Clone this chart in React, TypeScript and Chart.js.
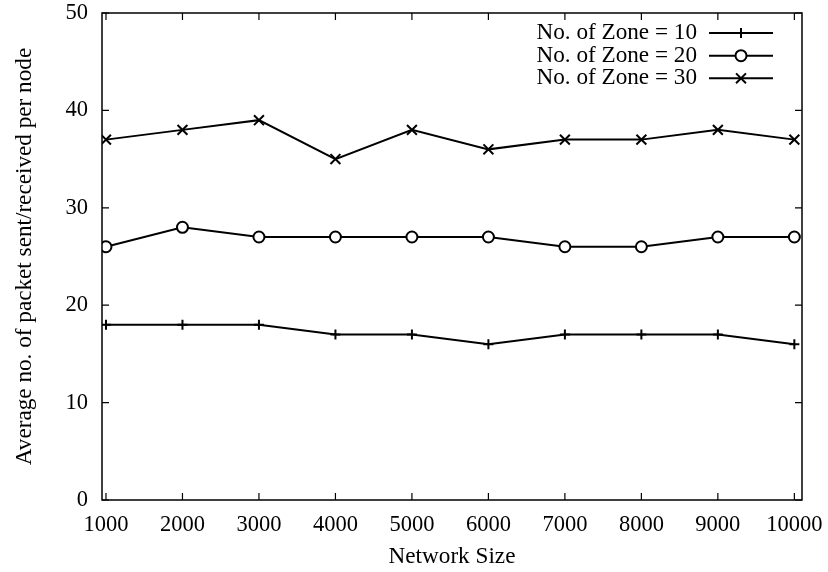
import React, { useEffect, useRef } from 'react';
import { Chart, registerables } from 'chart.js';

Chart.register(...registerables);

const networkSizes = [1000, 2000, 3000, 4000, 5000, 6000, 7000, 8000, 9000, 10000];
const zone10 = [18, 18, 18, 17, 17, 16, 17, 17, 17, 16];
const zone20 = [26, 28, 27, 27, 27, 27, 26, 26, 27, 27];
const zone30 = [37, 38, 39, 35, 38, 36, 37, 37, 38, 37];
const seriesLabels = ['No. of Zone = 10', 'No. of Zone = 20', 'No. of Zone = 30'];
const xTickValues = [1000, 2000, 3000, 4000, 5000, 6000, 7000, 8000, 9000, 10000];
const yTickValues = [0, 10, 20, 30, 40, 50];
const xTitle = 'Network Size';
const yTitle = 'Average no. of packet sent/received per node';

const FONT = '"Liberation Serif", "DejaVu Serif", serif';
const TICK_LEN = 7;

function drawMarker(ctx: CanvasRenderingContext2D, style: string, x: number, y: number, r: number) {
  ctx.beginPath();
  if (style === 'cross') {
    ctx.moveTo(x - r, y);
    ctx.lineTo(x + r, y);
    ctx.moveTo(x, y - r);
    ctx.lineTo(x, y + r);
    ctx.stroke();
  } else if (style === 'crossRot') {
    const d = r * Math.SQRT1_2;
    ctx.moveTo(x - d, y - d);
    ctx.lineTo(x + d, y + d);
    ctx.moveTo(x - d, y + d);
    ctx.lineTo(x + d, y - d);
    ctx.stroke();
  } else {
    ctx.arc(x, y, r, 0, Math.PI * 2);
    ctx.fillStyle = '#fff';
    ctx.fill();
    ctx.stroke();
  }
}

const framePlugin = {
  id: 'gnuframe',
  afterDraw(chart: any) {
    const { ctx, chartArea, scales } = chart;
    const { left, right, top, bottom } = chartArea;
    ctx.save();
    ctx.strokeStyle = '#000';
    ctx.lineWidth = 1.5;
    ctx.strokeRect(left, top, right - left, bottom - top);
    ctx.lineWidth = 1.2;
    ctx.beginPath();
    xTickValues.forEach((v) => {
      const px = scales.x.getPixelForValue(v);
      ctx.moveTo(px, bottom);
      ctx.lineTo(px, bottom - TICK_LEN);
      ctx.moveTo(px, top);
      ctx.lineTo(px, top + TICK_LEN);
    });
    yTickValues.forEach((v) => {
      const py = scales.y.getPixelForValue(v);
      ctx.moveTo(left, py);
      ctx.lineTo(left + TICK_LEN, py);
      ctx.moveTo(right, py);
      ctx.lineTo(right - TICK_LEN, py);
    });
    ctx.stroke();
    ctx.restore();
  },
};

const legendPlugin = {
  id: 'gnulegend',
  afterDraw(chart: any) {
    const { ctx, chartArea } = chart;
    const textRight = chartArea.right - 105;
    const lineStart = chartArea.right - 93;
    const lineEnd = chartArea.right - 29;
    const rowY = [chartArea.top + 20, chartArea.top + 42.7, chartArea.top + 65.3];
    ctx.save();
    chart.data.datasets.forEach((ds: any, i: number) => {
      const y = rowY[i];
      ctx.font = `23.2px ${FONT}`;
      ctx.fillStyle = '#000';
      ctx.textAlign = 'right';
      ctx.textBaseline = 'middle';
      ctx.fillText(ds.label, textRight, y);
      ctx.strokeStyle = '#000';
      ctx.lineWidth = 2;
      ctx.beginPath();
      ctx.moveTo(lineStart, y);
      ctx.lineTo(lineEnd, y);
      ctx.stroke();
      drawMarker(ctx, ds.pointStyle, (lineStart + lineEnd) / 2, y, ds.pointRadius);
    });
    ctx.restore();
  },
};

function makeSeries(label: string, values: number[], pointStyle: string, radius: number) {
  return {
    label,
    data: networkSizes.map((x, i) => ({ x, y: values[i] })),
    borderColor: '#000',
    borderWidth: 2,
    pointStyle,
    pointRadius: radius,
    pointBorderWidth: 2,
    pointBorderColor: '#000',
    pointBackgroundColor: '#fff',
    tension: 0,
    fill: false,
  };
}

export default function App() {
  const canvasRef = useRef<HTMLCanvasElement | null>(null);

  useEffect(() => {
    document.body.style.margin = '0';
    const canvas = canvasRef.current;
    if (!canvas) return;
    const chart = new Chart(canvas, {
      type: 'line',
      data: {
        datasets: [
          makeSeries(seriesLabels[0], zone10, 'cross', 5),
          makeSeries(seriesLabels[1], zone20, 'circle', 5.5),
          makeSeries(seriesLabels[2], zone30, 'crossRot', 7),
        ],
      },
      options: {
        responsive: false,
        animation: false,
        devicePixelRatio: 1,
        layout: { padding: { top: 13, right: 26, left: 0, bottom: 0 } },
        plugins: {
          legend: { display: false },
          tooltip: { enabled: false },
        },
        scales: {
          x: {
            type: 'linear',
            min: 948,
            max: 10100,
            grid: { display: false, drawTicks: false },
            border: { display: false },
            afterBuildTicks: (scale: any) => {
              scale.ticks = xTickValues.map((v) => ({ value: v }));
            },
            afterFit: (scale: any) => {
              scale.height = 72;
              scale.paddingLeft = 0;
              scale.paddingRight = 0;
            },
            ticks: {
              color: '#000',
              font: { family: FONT, size: 22.5 },
              padding: 12,
              maxRotation: 0,
              autoSkip: false,
              callback: (v: any) => String(v),
            },
            title: {
              display: true,
              text: xTitle,
              color: '#000',
              font: { family: FONT, size: 23.2 },
              padding: { top: 0, bottom: 1 },
            },
          },
          y: {
            type: 'linear',
            min: 0,
            max: 50,
            grid: { display: false, drawTicks: false },
            border: { display: false },
            afterBuildTicks: (scale: any) => {
              scale.ticks = yTickValues.map((v) => ({ value: v }));
            },
            afterFit: (scale: any) => {
              scale.width = 102;
              scale.paddingTop = 0;
              scale.paddingBottom = 0;
            },
            ticks: {
              color: '#000',
              font: { family: FONT, size: 22.5 },
              padding: 14,
              callback: (v: any) => String(v),
            },
            title: {
              display: true,
              text: yTitle,
              color: '#000',
              font: { family: FONT, size: 23.2 },
              padding: { top: 11, bottom: 0 },
            },
          },
        },
      },
      plugins: [framePlugin, legendPlugin],
    });
    return () => chart.destroy();
  }, []);

  return (
    <div style={{ width: 828, height: 572 }}>
      <canvas ref={canvasRef} width={828} height={572} style={{ display: 'block', width: 828, height: 572 }} />
    </div>
  );
}
